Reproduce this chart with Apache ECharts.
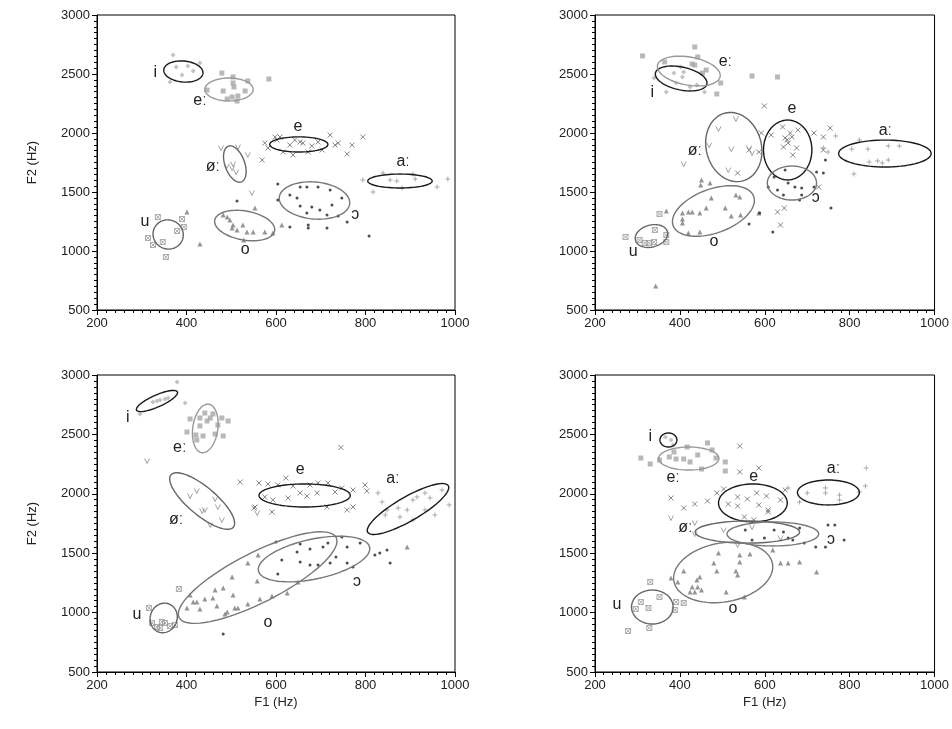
<!DOCTYPE html>
<html>
<head>
<meta charset="utf-8">
<script src="https://cdn.jsdelivr.net/npm/echarts@6/dist/echarts.min.js"></script>
<style>
  html, body { margin: 0; padding: 0; background: #fff; }
  #chart { width: 952px; height: 729px; }
</style>
</head>
<body>
<div id="chart"></div>
<script>
// vowel order used by every panel array below
var vowels = ['i', 'eː', 'e', 'øː', 'aː', 'u', 'o', 'ɔ']
var xTicks = [200, 400, 600, 800, 1000]
var yTicks = [500, 1000, 1500, 2000, 2500, 3000]

// ---- panel 1 (top left) : [F1, F2]
var tl_i = [[370, 2661], [363, 2432], [377, 2559], [390, 2492], [415, 2525], [403, 2568], [430, 2593]]
var tl_eL = [[479, 2508], [504, 2475], [537, 2441], [584, 2458], [504, 2424], [506, 2390], [531, 2356], [482, 2356], [446, 2364], [515, 2314], [491, 2288], [513, 2271], [502, 2305]]
var tl_e = [[575, 1915], [582, 1873], [602, 1941], [616, 1839], [638, 1814], [660, 1915], [672, 1839], [694, 1924], [721, 1983], [732, 1898], [739, 1915], [770, 1898], [794, 1966], [759, 1822], [569, 1771], [631, 1898], [654, 1924], [703, 1856], [609, 1966], [598, 1966], [680, 1890], [642, 1941]]
var tl_oeL = [[477, 1873], [515, 1881], [537, 1814], [490, 1720], [504, 1737], [511, 1669], [502, 1703], [546, 1492]]
var tl_aL = [[794, 1602], [817, 1500], [839, 1661], [855, 1602], [870, 1593], [906, 1653], [911, 1610], [882, 1534], [960, 1542], [984, 1610]]
var tl_u = [[336, 1288], [390, 1271], [379, 1169], [314, 1110], [347, 1076], [325, 1051], [354, 949], [394, 1203]]
var tl_o = [[401, 1331], [430, 1059], [482, 1305], [497, 1263], [504, 1220], [513, 1178], [526, 1220], [535, 1161], [549, 1161], [553, 1364], [575, 1161], [593, 1153], [528, 1093], [491, 1288], [502, 1195], [613, 1220]]
var tl_c = [[604, 1568], [654, 1542], [669, 1542], [694, 1542], [721, 1517], [631, 1475], [647, 1449], [604, 1432], [747, 1449], [654, 1381], [680, 1373], [698, 1347], [725, 1390], [669, 1322], [714, 1305], [739, 1297], [759, 1246], [672, 1220], [672, 1195], [714, 1195], [631, 1203], [808, 1127], [513, 1424]]
// ellipses: [F1 centre, F2 centre, F1 radius, F2 radius, tilt deg]
var tl_ell = [[393, 2521, 44, 89, 5], [495, 2369, 54, 97, 0], [651, 1903, 65, 64, 0], [508, 1737, 22, 161, -20], [877, 1593, 72, 59, 0], [359, 1140, 34, 123, 20], [530, 1216, 68, 123, 10], [686, 1428, 79, 157, 5]]
var tl_lab = [[330, 2508], [430, 2271], [649, 2051], [459, 1712], [884, 1754], [307, 1246], [531, 1008], [777, 1305]]

// ---- panel 2 (top right)
var tr_i = [[339, 2466], [368, 2347], [386, 2508], [409, 2517], [406, 2475], [424, 2390], [440, 2407], [458, 2347], [391, 2424], [402, 2559]]
var tr_eL = [[312, 2653], [435, 2729], [442, 2644], [364, 2602], [429, 2585], [435, 2576], [462, 2534], [453, 2508], [496, 2424], [487, 2331], [630, 2475], [570, 2483]]
var tr_e = [[599, 2229], [592, 2000], [615, 1983], [642, 2051], [648, 1958], [664, 1966], [644, 1881], [678, 2025], [675, 1873], [666, 1814], [716, 2000], [738, 1966], [754, 2042], [738, 1856], [586, 1839], [563, 1856], [536, 1661], [630, 1331], [646, 1364], [637, 1220], [727, 1542], [653, 1941], [655, 1915], [660, 2000]]
var tr_oeL = [[532, 2119], [491, 2034], [469, 1898], [521, 1864], [563, 1873], [570, 1830], [409, 1737], [514, 1686]]
var tr_aL = [[767, 1975], [805, 1864], [823, 1941], [843, 1864], [891, 1890], [917, 1890], [846, 1754], [866, 1763], [877, 1746], [891, 1771], [810, 1653], [738, 1873], [749, 1839]]
var tr_u = [[272, 1119], [352, 1314], [305, 1093], [317, 1068], [328, 1068], [339, 1076], [341, 1178], [368, 1136], [368, 1076]]
var tr_o = [[368, 1339], [406, 1322], [406, 1271], [406, 1237], [420, 1331], [429, 1331], [447, 1322], [462, 1364], [474, 1449], [507, 1364], [521, 1297], [543, 1305], [532, 1475], [541, 1458], [447, 1161], [420, 1153], [449, 1559], [451, 1602], [471, 1576], [586, 1322], [343, 703]]
var tr_c = [[622, 1627], [648, 1686], [655, 1576], [671, 1542], [687, 1534], [630, 1517], [644, 1475], [687, 1475], [722, 1669], [738, 1661], [716, 1542], [756, 1364], [682, 1432], [563, 1229], [588, 1322], [619, 1161], [743, 1771], [608, 1542]]
var tr_ell = [[403, 2462, 62, 97, 12], [421, 2525, 75, 119, 10], [654, 1856, 57, 254, 0], [527, 1881, 65, 297, -15], [883, 1826, 109, 114, 0], [333, 1127, 39, 93, -15], [479, 1339, 101, 186, -20], [664, 1576, 58, 144, 0]]
var tr_lab = [[335, 2339], [507, 2602], [664, 2203], [435, 1847], [884, 2017], [290, 992], [480, 1076], [720, 1449]]

// ---- panel 3 (bottom left)
var bl_i = [[379, 2941], [397, 2764], [296, 2672], [325, 2773], [341, 2790], [352, 2798], [359, 2806], [334, 2781]]
var bl_eL = [[408, 2630], [430, 2638], [441, 2680], [453, 2638], [459, 2672], [479, 2638], [493, 2613], [470, 2579], [430, 2571], [401, 2520], [421, 2495], [437, 2487], [464, 2503], [482, 2487], [446, 2613], [423, 2453]]
var bl_e = [[562, 2091], [582, 2082], [604, 2074], [622, 2133], [638, 2066], [676, 2074], [694, 2091], [716, 2091], [747, 2049], [772, 2032], [799, 2074], [803, 2024], [575, 1973], [593, 1948], [627, 1965], [654, 2007], [669, 1981], [692, 2007], [714, 1889], [732, 2015], [759, 1864], [772, 1889], [553, 1889], [591, 1847], [520, 2099], [551, 1880], [745, 2390]]
var bl_oeL = [[312, 2276], [408, 1981], [423, 2024], [464, 1956], [470, 1889], [435, 1855], [441, 1864], [558, 1838], [453, 1737], [479, 1780]]
var bl_aL = [[828, 2007], [837, 1931], [848, 1864], [844, 1822], [873, 1880], [893, 1864], [877, 1805], [906, 1948], [915, 1973], [933, 2007], [944, 1965], [971, 2032], [955, 1822], [933, 1864], [987, 1906], [906, 1780]]
var bl_u = [[383, 1199], [316, 1039], [323, 912], [345, 921], [352, 912], [374, 896], [334, 879], [341, 870], [363, 887]]
var bl_o = [[408, 1148], [415, 1089], [423, 1089], [430, 1030], [401, 1039], [441, 1114], [459, 1123], [464, 1190], [482, 1207], [468, 1056], [491, 1005], [486, 988], [504, 1148], [508, 1039], [515, 1039], [537, 1072], [564, 1114], [591, 1140], [558, 1266], [502, 1300], [537, 1418], [560, 1485], [625, 1165], [649, 1258], [893, 1552]]
var bl_c = [[600, 1594], [654, 1577], [676, 1535], [705, 1552], [716, 1586], [747, 1636], [759, 1552], [788, 1586], [613, 1443], [654, 1426], [676, 1401], [694, 1401], [721, 1418], [734, 1468], [759, 1418], [772, 1384], [821, 1485], [832, 1502], [848, 1527], [604, 1325], [855, 1418], [647, 1510], [482, 820]]
var bl_ell = [[334, 2781, 50, 50, -24], [442, 2550, 28, 206, 8], [664, 1986, 102, 97, 0], [435, 1939, 91, 118, 40], [895, 1872, 104, 101, -30], [349, 955, 30, 126, 20], [559, 1295, 197, 210, -27], [685, 1451, 127, 168, -12]]
var bl_lab = [[269, 2638], [385, 2386], [654, 2200], [377, 1780], [861, 2125], [289, 980], [582, 912], [781, 1258]]

// ---- panel 4 (bottom right)
var br_i = [[366, 2478], [379, 2453], [384, 2411]]
var br_eL = [[308, 2301], [330, 2251], [352, 2284], [375, 2310], [386, 2352], [417, 2394], [465, 2428], [476, 2369], [485, 2301], [507, 2268], [507, 2192], [451, 2209], [442, 2327], [424, 2268], [409, 2293], [391, 2293]]
var br_e = [[541, 2402], [586, 2217], [541, 2184], [379, 1965], [409, 1880], [435, 1914], [465, 1939], [487, 2007], [503, 2040], [514, 1914], [536, 1973], [536, 1897], [559, 1956], [581, 2007], [586, 1906], [552, 1805], [574, 1780], [608, 1864], [604, 1981], [637, 1948], [648, 2032], [608, 1847]]
var br_oeL = [[379, 1796], [435, 1754], [435, 1662], [503, 1695], [570, 1720], [637, 1628], [536, 1569]]
var br_aL = [[839, 2217], [837, 2066], [700, 2007], [743, 2049], [743, 2007], [776, 1990], [776, 1948], [682, 1931], [655, 2049], [823, 2015]]
var br_u = [[330, 1258], [308, 1089], [296, 1030], [326, 1039], [352, 1131], [391, 1089], [409, 1081], [388, 1022], [328, 870], [278, 845]]
var br_o = [[409, 1350], [379, 1291], [395, 1258], [429, 1215], [424, 1173], [435, 1173], [442, 1215], [451, 1190], [447, 1300], [440, 1274], [480, 1418], [487, 1350], [541, 1485], [541, 1426], [532, 1350], [536, 1317], [509, 1173], [491, 1502], [565, 1493], [619, 1527], [637, 1418], [655, 1418], [682, 1426], [722, 1342], [552, 1131]]
var br_c = [[599, 1628], [622, 1695], [644, 1678], [655, 1628], [666, 1611], [682, 1712], [693, 1586], [720, 1552], [749, 1737], [765, 1737], [787, 1611], [743, 1552], [570, 1611], [554, 1695]]
var br_ell = [[373, 2453, 20, 59, 0], [421, 2297, 71, 97, 0], [572, 1923, 81, 160, 0], [559, 1678, 123, 93, 0], [750, 2011, 73, 105, 0], [335, 1047, 49, 143, 0], [502, 1338, 118, 248, -10], [619, 1662, 108, 101, 0]]
var br_lab = [[330, 2478], [384, 2133], [574, 2141], [413, 1712], [762, 2209], [252, 1064], [525, 1030], [756, 1611]]

// 每个元音的符号样式
var markStyle = [
  { symbol: 'diamond', size: 5, fill: '#b4b4b4' },
  { symbol: 'rect', size: 5, fill: '#a6a6a6' },
  { symbol: 'path://M0,0L10,10M10,0L0,10', size: 5, stroke: '#666' },
  { symbol: 'path://M0,0L5,10L10,0', size: 5, stroke: '#888' },
  { symbol: 'path://M5,0L5,10M0,5L10,5', size: 5, stroke: '#999' },
  { symbol: 'path://M0,0H10V10H0ZM0,0L10,10M10,0L0,10', size: 5, stroke: '#999' },
  { symbol: 'triangle', size: 5, fill: '#7a7a7a' },
  { symbol: 'circle', size: 3, fill: '#222' }
]
var ellColor = ['#1a1a1a', '#999', '#1a1a1a', '#666', '#1a1a1a', '#666', '#777', '#777']

var panels = [
  { grid: { left: 97, top: 15, width: 358, height: 295 }, pts: [tl_i, tl_eL, tl_e, tl_oeL, tl_aL, tl_u, tl_o, tl_c], ell: tl_ell, lab: tl_lab, xName: '', yName: 'F2 (Hz)' },
  { grid: { left: 595, top: 15, width: 356, height: 295 }, pts: [tr_i, tr_eL, tr_e, tr_oeL, tr_aL, tr_u, tr_o, tr_c], ell: tr_ell, lab: tr_lab, xName: '', yName: '' },
  { grid: { left: 97, top: 375, width: 358, height: 297 }, pts: [bl_i, bl_eL, bl_e, bl_oeL, bl_aL, bl_u, bl_o, bl_c], ell: bl_ell, lab: bl_lab, xName: 'F1 (Hz)', yName: 'F2 (Hz)' },
  { grid: { left: 595, top: 375, width: 356, height: 297 }, pts: [br_i, br_eL, br_e, br_oeL, br_aL, br_u, br_o, br_c], ell: br_ell, lab: br_lab, xName: 'F1 (Hz)', yName: '' }
]

var font = 'Liberation Sans, Arial, sans-serif'
var grids = []
var xAxes = []
var yAxes = []
var series = []
var plain = function (v) { return String(v) }

panels.forEach(function (p, k) {
  grids.push(Object.assign({ show: true, borderColor: '#000', borderWidth: 1, containLabel: false }, p.grid))
  xAxes.push({
    gridIndex: k, type: 'value', min: xTicks[0], max: xTicks[xTicks.length - 1], interval: 200,
    name: p.xName, nameLocation: 'middle', nameGap: 24,
    nameTextStyle: { fontSize: 13, color: '#222', fontFamily: font },
    axisLine: { lineStyle: { color: '#000', width: 1 } },
    axisTick: { length: 5, lineStyle: { color: '#000' } },
    minorTick: { show: true, splitNumber: 10, length: 3, lineStyle: { color: '#000' } },
    splitLine: { show: false },
    axisLabel: { fontSize: 13, color: '#222', fontFamily: font, margin: 7, formatter: plain }
  })
  yAxes.push({
    gridIndex: k, type: 'value', min: yTicks[0], max: yTicks[yTicks.length - 1], interval: 500,
    name: p.yName, nameLocation: 'middle', nameGap: 58,
    nameTextStyle: { fontSize: 13, color: '#222', fontFamily: font },
    axisLine: { lineStyle: { color: '#000', width: 1 } },
    axisTick: { length: 5, lineStyle: { color: '#000' } },
    minorTick: { show: true, splitNumber: 10, length: 3, lineStyle: { color: '#000' } },
    splitLine: { show: false },
    axisLabel: { fontSize: 13, color: '#222', fontFamily: font, margin: 7, formatter: plain }
  })

  // 散点
  p.pts.forEach(function (arr, v) {
    var m = markStyle[v]
    series.push({
      type: 'scatter', name: vowels[v], xAxisIndex: k, yAxisIndex: k,
      symbol: m.symbol, symbolSize: m.size, data: arr, silent: true,
      itemStyle: m.stroke
        ? { color: 'rgba(0,0,0,0)', borderColor: m.stroke, borderWidth: 1 }
        : { color: m.fill }
    })
  })

  // 椭圆
  series.push({
    type: 'custom', xAxisIndex: k, yAxisIndex: k, silent: true, data: p.ell, z: 3,
    renderItem: function (params, api) {
      var c = api.coord([api.value(0), api.value(1)])
      var s = api.size([api.value(2), api.value(3)])
      var a = api.value(4) * Math.PI / 180
      var pts = []
      for (var t = 0; t < 72; t++) {
        var th = t / 72 * Math.PI * 2
        var ex = s[0] * Math.cos(th)
        var ey = s[1] * Math.sin(th)
        pts.push([c[0] + ex * Math.cos(a) - ey * Math.sin(a), c[1] + ex * Math.sin(a) + ey * Math.cos(a)])
      }
      return {
        type: 'polygon', shape: { points: pts },
        style: { fill: 'none', stroke: ellColor[params.dataIndex], lineWidth: 1.4 }
      }
    }
  })

  // 元音标签
  series.push({
    type: 'custom', xAxisIndex: k, yAxisIndex: k, silent: true, data: p.lab, z: 4,
    renderItem: function (params, api) {
      var c = api.coord([api.value(0), api.value(1)])
      return {
        type: 'text', x: c[0], y: c[1],
        style: { text: vowels[params.dataIndex], fontSize: 16, fill: '#222', fontFamily: font, align: 'center', verticalAlign: 'middle' }
      }
    }
  })
})

var myChart = echarts.init(document.getElementById('chart'))
myChart.setOption({
  backgroundColor: '#fff',
  animation: false,
  grid: grids,
  xAxis: xAxes,
  yAxis: yAxes,
  series: series
})
</script>
</body>
</html>
